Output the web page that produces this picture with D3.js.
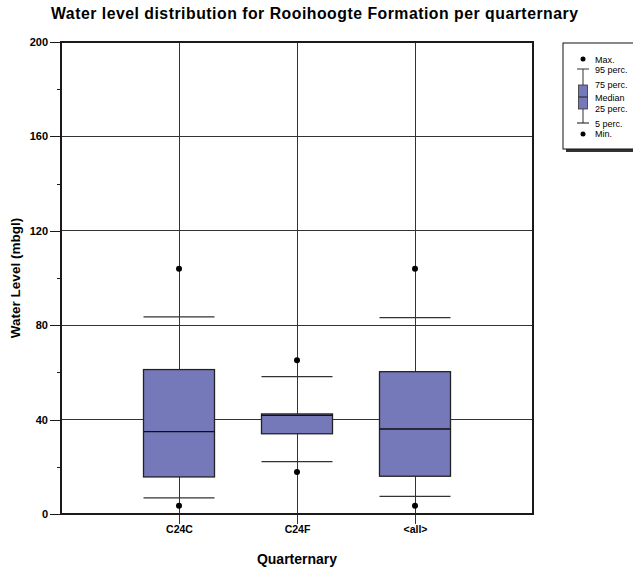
<!DOCTYPE html>
<html>
<head>
<meta charset="utf-8">
<script src="https://cdn.jsdelivr.net/npm/d3@7/dist/d3.min.js"></script>
<style>
  html, body { margin: 0; padding: 0; background: #fff; }
  svg { display: block; font-family: "Liberation Sans", Arial, sans-serif; }
</style>
</head>
<body>
<svg id="chart" width="633" height="572"></svg>
<script>
// Quarternary groups and their water-level statistics (m below ground level)
const categories = ["C24C", "C24F", "<all>"];
const minVals    = [3.5, 17.8, 3.5];
const p5Vals     = [6.8, 22.2, 7.5];
const q1Vals     = [15.7, 34.0, 16.0];
const medianVals = [34.9, 41.8, 36.0];
const q3Vals     = [61.2, 42.4, 60.3];
const p95Vals    = [83.5, 58.2, 83.2];
const maxVals    = [103.9, 65.1, 103.9];
const yMajorTicks = [0, 40, 80, 120, 160, 200];
const yMinorTicks = [20, 60, 100, 140, 180];

const rows = categories.map((c, i) => ({
  cat: c, min: minVals[i], p5: p5Vals[i], q1: q1Vals[i], med: medianVals[i],
  q3: q3Vals[i], p95: p95Vals[i], max: maxVals[i]
}));

const svg = d3.select("#chart");
const m = { left: 61, right: 533, top: 42, bottom: 514 };
const boxFill = "#7579b9";
const lineCol = "#1a1a1a";

const x = d3.scaleLinear().domain([0, categories.length + 1]).range([m.left, m.right]);
const y = d3.scaleLinear().domain([0, 200]).range([m.bottom, m.top]);
const boxHalf = 35.5;

// title
svg.append("text").attr("x", 51).attr("y", 18.5)
  .attr("font-size", 15.8).attr("font-weight", "bold")
  .attr("textLength", 527).attr("lengthAdjust", "spacing")
  .text("Water level distribution for Rooihoogte Formation per quarternary");

const g = svg.append("g");

// horizontal grid
g.selectAll(".hgrid").data(yMajorTicks.filter(t => t > 0 && t < 200)).join("line")
  .attr("x1", m.left).attr("x2", m.right).attr("y1", d => y(d)).attr("y2", d => y(d))
  .attr("stroke", "#333").attr("stroke-width", 1).attr("shape-rendering", "crispEdges");

// vertical grid through each category
g.selectAll(".vgrid").data(rows).join("line")
  .attr("x1", (d, i) => x(i + 1)).attr("x2", (d, i) => x(i + 1))
  .attr("y1", m.top).attr("y2", m.bottom + 10)
  .attr("stroke", "#333").attr("stroke-width", 1).attr("shape-rendering", "crispEdges");

// y axis
const yAxis = d3.axisLeft(y).tickValues(yMajorTicks).tickSize(11).tickPadding(2).tickFormat(d3.format("d"));
const ya = svg.append("g").attr("transform", `translate(${m.left},0)`).call(yAxis);
ya.select(".domain").remove();
ya.selectAll("line").attr("stroke", lineCol).attr("shape-rendering", "crispEdges");
ya.selectAll("text").attr("font-size", 11).attr("font-weight", "bold").attr("fill", "#000")
  .attr("font-family", "Liberation Sans, Arial, sans-serif");
const yMinor = d3.axisLeft(y).tickValues(yMinorTicks).tickSize(4).tickFormat("");
const ym = svg.append("g").attr("transform", `translate(${m.left},0)`).call(yMinor);
ym.select(".domain").remove();
ym.selectAll("line").attr("stroke", lineCol).attr("shape-rendering", "crispEdges");

// x axis labels
const xAxis = d3.axisBottom(x).tickValues([1, 2, 3]).tickSize(0).tickPadding(12)
  .tickFormat(d => categories[d - 1]);
const xa = svg.append("g").attr("transform", `translate(0,${m.bottom})`).call(xAxis);
xa.select(".domain").remove();
xa.selectAll("text").attr("font-size", 10.5).attr("font-weight", "bold").attr("fill", "#000")
  .attr("font-family", "Liberation Sans, Arial, sans-serif");

// plot frame
svg.append("rect").attr("x", m.left).attr("y", m.top)
  .attr("width", m.right - m.left).attr("height", m.bottom - m.top)
  .attr("fill", "none").attr("stroke", lineCol).attr("stroke-width", 1.2).attr("shape-rendering", "crispEdges");

// boxes
const bx = svg.append("g");
rows.forEach((d, i) => {
  const cx = x(i + 1);
  // whisker caps
  [d.p5, d.p95].forEach(v => {
    bx.append("line").attr("x1", cx - boxHalf).attr("x2", cx + boxHalf)
      .attr("y1", y(v)).attr("y2", y(v)).attr("stroke", "#333").attr("stroke-width", 1.2);
  });
  bx.append("rect").attr("x", cx - boxHalf).attr("width", boxHalf * 2)
    .attr("y", y(d.q3)).attr("height", y(d.q1) - y(d.q3))
    .attr("fill", boxFill).attr("stroke", "#222").attr("stroke-width", 1.3);
  bx.append("line").attr("x1", cx - boxHalf).attr("x2", cx + boxHalf)
    .attr("y1", y(d.med)).attr("y2", y(d.med)).attr("stroke", "#111").attr("stroke-width", 1.4);
  [d.min, d.max].forEach(v => {
    bx.append("circle").attr("cx", cx).attr("cy", y(v)).attr("r", 3).attr("fill", "#000");
  });
});

// axis titles
svg.append("text").attr("transform", `translate(20,${(m.top + m.bottom) / 2}) rotate(-90)`)
  .attr("text-anchor", "middle").attr("font-size", 13.5).attr("font-weight", "bold").text("Water Level (mbgl)");
svg.append("text").attr("x", x(2)).attr("y", 564).attr("text-anchor", "middle")
  .attr("font-size", 14).attr("font-weight", "bold").text("Quarternary");

// legend
const lg = svg.append("g");
const L = { x: 563, y: 43, w: 80, h: 106 };
lg.append("rect").attr("x", L.x + 3).attr("y", L.y + 3).attr("width", L.w).attr("height", L.h).attr("fill", "#333");
lg.append("rect").attr("x", L.x).attr("y", L.y).attr("width", L.w).attr("height", L.h)
  .attr("fill", "#fff").attr("stroke", "#111").attr("stroke-width", 1);
const lcx = 583;
lg.append("line").attr("x1", lcx).attr("x2", lcx).attr("y1", 69).attr("y2", 123).attr("stroke", "#333");
lg.append("line").attr("x1", lcx - 6).attr("x2", lcx + 6).attr("y1", 69).attr("y2", 69).attr("stroke", "#333");
lg.append("line").attr("x1", lcx - 6).attr("x2", lcx + 6).attr("y1", 123).attr("y2", 123).attr("stroke", "#111");
lg.append("rect").attr("x", lcx - 4.5).attr("y", 85).attr("width", 9).attr("height", 24)
  .attr("fill", boxFill).attr("stroke", "#333").attr("stroke-width", 0.8);
lg.append("line").attr("x1", lcx - 4.5).attr("x2", lcx + 4.5).attr("y1", 97).attr("y2", 97).attr("stroke", "#222");
lg.append("circle").attr("cx", lcx).attr("cy", 59).attr("r", 2.5).attr("fill", "#000");
lg.append("circle").attr("cx", lcx).attr("cy", 134).attr("r", 2.5).attr("fill", "#000");
const legendLabels = ["Max.", "95 perc.", "75 perc.", "Median", "25 perc.", "5 perc.", "Min."];
const legendY = [60, 69.5, 85, 97.5, 109, 124, 134];
lg.selectAll(".ll").data(legendLabels).join("text")
  .attr("x", 595).attr("y", (d, i) => legendY[i]).attr("dy", "0.35em")
  .attr("font-size", 9).attr("fill", "#000").text(d => d);
</script>
</body>
</html>
